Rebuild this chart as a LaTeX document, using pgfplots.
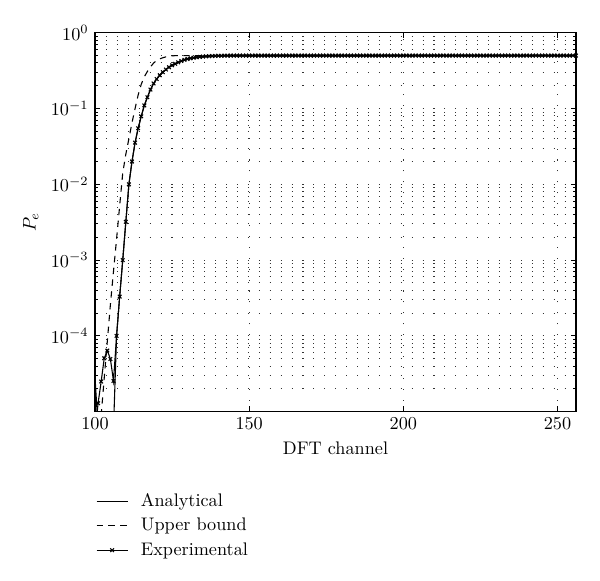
\documentclass[border=0pt]{standalone}
\usepackage{pgfplots}
\pgfplotsset{compat=1.18}

\begin{document}
\begin{tikzpicture}
\begin{axis}[
  scale only axis,
  width=264.3pt, height=208.2pt,
  ymode=log,
  xmin=100, xmax=256, ymin=1e-5, ymax=1,
  xtick={100,150,200,250},
  ytick={1e-4,1e-3,1e-2,1e-1,1},
  minor ytick={2e-5,3e-5,4e-5,5e-5,6e-5,7e-5,8e-5,9e-5,
               2e-4,3e-4,4e-4,5e-4,6e-4,7e-4,8e-4,9e-4,
               2e-3,3e-3,4e-3,5e-3,6e-3,7e-3,8e-3,9e-3,
               2e-2,3e-2,4e-2,5e-2,6e-2,7e-2,8e-2,9e-2,
               0.2,0.3,0.4,0.5,0.6,0.7,0.8,0.9},
  xmajorgrids, ymajorgrids, yminorgrids,
  major grid style={black!80, line width=0.5pt, dash pattern=on 0.6pt off 5.4pt},
  minor grid style={black!80, line width=0.5pt, dash pattern=on 0.6pt off 5.4pt},
  major tick length=3pt, minor tick length=1.8pt,
  tick style={black, line width=0.5pt},
  axis line style={line width=0.8pt},
  xlabel={DFT channel}, ylabel={$P_e$},
  legend style={at={(-0.01,-0.195)}, anchor=north west, draw=none, fill=none,
    row sep=1pt, column sep=5pt},
  legend cell align=left,
]
% analytical
\addplot[black, line width=0.6pt] coordinates {
  (100,2.9e-5)(101,6e-6)(102,1e-6)(105,1e-6)(106,6e-6)
  (107,1.0e-4)(108,3.3e-4)(109,1.0e-3)(110,3.2e-3)(111,1.0e-2)
  (112,2.0e-2)(113,3.55e-2)(114,5.5e-2)(115,7.9e-2)(116,0.11)
  (117,0.141)(118,0.178)(119,0.214)(120,0.245)(121,0.275)
  (122,0.302)(123,0.327)(124,0.351)(125,0.372)(126,0.389)
  (127,0.407)(128,0.424)(129,0.439)(130,0.451)(131,0.46)
  (132,0.469)(133,0.475)(134,0.481)(135,0.485)(136,0.489)
  (137,0.491)(138,0.493)(139,0.495)(140,0.497)(141,0.498)
  (142,0.499)(143,0.499)(144,0.5)(256,0.5)
};
\addlegendentry{Analytical}
% upper bound
\addplot[black, line width=0.6pt, dash pattern=on 3.5pt off 3pt] coordinates {
  (102,8.9e-6)(103,2.8e-5)(104,8.5e-5)(105,2.6e-4)(106,7.1e-4)
  (107,1.9e-3)(108,5.2e-3)(109,1.41e-2)(110,2.5e-2)(111,4.0e-2)
  (112,6.5e-2)(113,0.1)(114,0.151)(115,0.209)(116,0.263)
  (117,0.309)(118,0.355)(119,0.398)(120,0.432)(121,0.452)
  (122,0.468)(123,0.481)(124,0.49)(125,0.495)(126,0.499)
  (128,0.5)(256,0.5)
};
\addlegendentry{Upper bound}
% experimental
\addplot[black, line width=0.6pt, mark=x, mark size=1.4pt] coordinates {
  (100,5e-6)(101,1.29e-5)(102,2.5e-5)(103,5.07e-5)(104,6.4e-5)
  (105,4.95e-5)(106,2.54e-5)(107,1.0e-4)(108,3.3e-4)(109,1.0e-3)
  (110,3.2e-3)(111,1.0e-2)(112,2.0e-2)(113,3.55e-2)(114,5.5e-2)
  (115,7.9e-2)(116,0.11)(117,0.141)(118,0.178)(119,0.214)
  (120,0.245)(121,0.275)(122,0.302)(123,0.327)(124,0.351)
  (125,0.372)(126,0.389)(127,0.407)(128,0.424)(129,0.439)
  (130,0.451)(131,0.46)(132,0.469)(133,0.475)(134,0.481)
  (135,0.485)(136,0.489)(137,0.491)(138,0.493)(139,0.495)
  (140,0.497)(141,0.498)(142,0.499)(143,0.499)(144,0.5)
  (145,0.5)(146,0.5)(147,0.5)(148,0.5)(149,0.5)(150,0.5)(151,0.5)(152,0.5)(153,0.5)(154,0.5)
  (155,0.5)(156,0.5)(157,0.5)(158,0.5)(159,0.5)(160,0.5)(161,0.5)(162,0.5)(163,0.5)(164,0.5)
  (165,0.5)(166,0.5)(167,0.5)(168,0.5)(169,0.5)(170,0.5)(171,0.5)(172,0.5)(173,0.5)(174,0.5)
  (175,0.5)(176,0.5)(177,0.5)(178,0.5)(179,0.5)(180,0.5)(181,0.5)(182,0.5)(183,0.5)(184,0.5)
  (185,0.5)(186,0.5)(187,0.5)(188,0.5)(189,0.5)(190,0.5)(191,0.5)(192,0.5)(193,0.5)(194,0.5)
  (195,0.5)(196,0.5)(197,0.5)(198,0.5)(199,0.5)(200,0.5)(201,0.5)(202,0.5)(203,0.5)(204,0.5)
  (205,0.5)(206,0.5)(207,0.5)(208,0.5)(209,0.5)(210,0.5)(211,0.5)(212,0.5)(213,0.5)(214,0.5)
  (215,0.5)(216,0.5)(217,0.5)(218,0.5)(219,0.5)(220,0.5)(221,0.5)(222,0.5)(223,0.5)(224,0.5)
  (225,0.5)(226,0.5)(227,0.5)(228,0.5)(229,0.5)(230,0.5)(231,0.5)(232,0.5)(233,0.5)(234,0.5)
  (235,0.5)(236,0.5)(237,0.5)(238,0.5)(239,0.5)(240,0.5)(241,0.5)(242,0.5)(243,0.5)(244,0.5)
  (245,0.5)(246,0.5)(247,0.5)(248,0.5)(249,0.5)(250,0.5)(251,0.5)(252,0.5)(253,0.5)(254,0.5)
  (255,0.5)(256,0.5)
};
\addlegendentry{Experimental}
\end{axis}
\path ([shift={(-52.2pt,-93pt)}]current axis.south west) rectangle ([shift={(13.2pt,18pt)}]current axis.north east);
\end{tikzpicture}
\end{document}
